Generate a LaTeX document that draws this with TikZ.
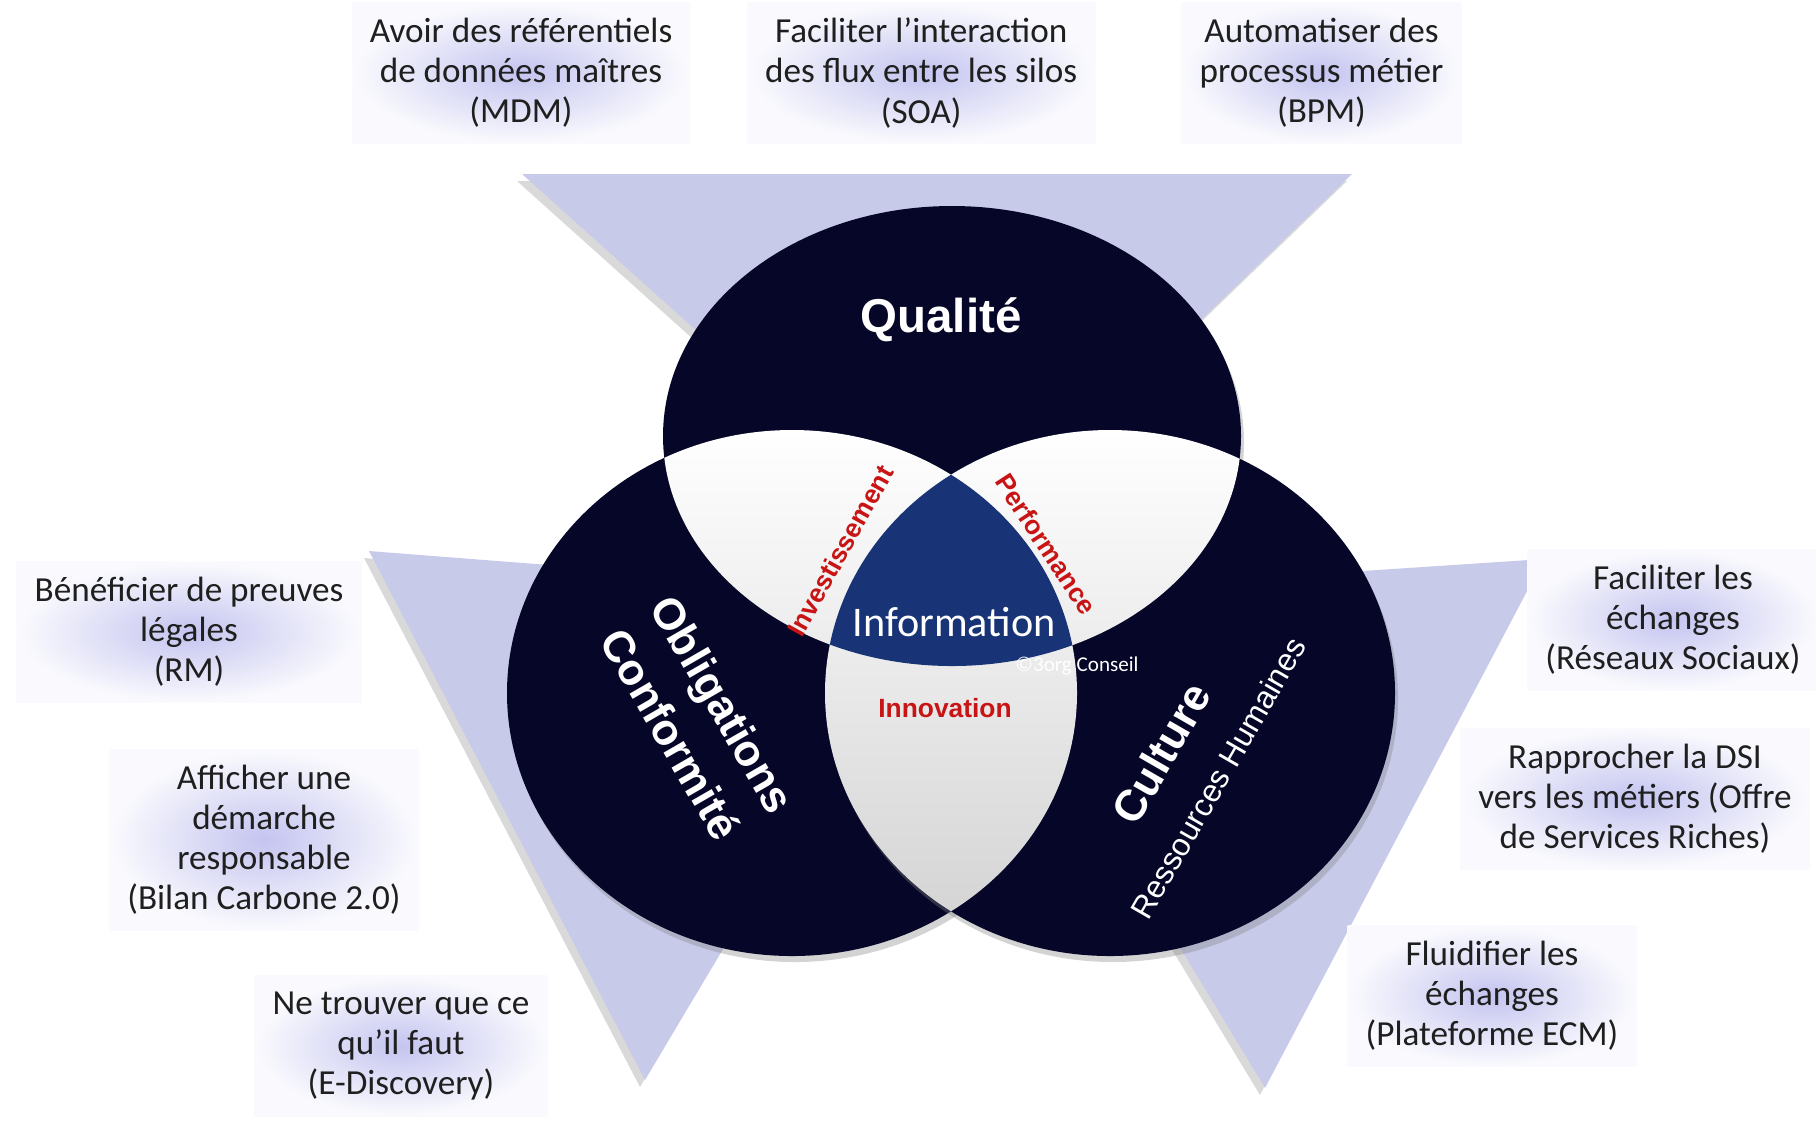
\documentclass[tikz,border=0pt]{standalone}
\usepackage{fontspec}
\setmainfont{Carlito}
\newfontfamily\arialfont{Liberation Sans}
\usetikzlibrary{positioning, shadows}
\definecolor{navy}{RGB}{6,6,40}
\definecolor{infoblue}{RGB}{24,52,118}
\definecolor{lavender}{RGB}{200,202,234}
\definecolor{glow}{RGB}{196,196,240}
\definecolor{redlab}{RGB}{200,20,20}
\newcommand{\topdisc}{(952,436) ellipse [x radius=289, y radius=230]}
\newcommand{\leftdisc}{(792,693) ellipse [x radius=285, y radius=263]}
\newcommand{\rightdisc}{(1110,693) ellipse [x radius=285, y radius=263]}
\tikzstyle{goal} = [inner color=glow, outer color=glow!8!white, align=center, text=black!88, font=\fontsize{10}{11.4}\selectfont, inner xsep=0.18cm, inner ysep=0.16cm]
\tikzstyle{pillar} = [text=white, align=center, font=\arialfont\bfseries\fontsize{12.5}{17}\selectfont]
\tikzstyle{link} = [text=redlab, font=\arialfont\bfseries\fontsize{7.5}{9}\selectfont]
\tikzstyle{wedge} = [fill=lavender, drop shadow={shadow xshift=-0.05cm, shadow yshift=-0.07cm, opacity=0.3}]
\tikzstyle{disc} = [fill=navy, drop shadow={shadow xshift=0.03cm, shadow yshift=-0.06cm, opacity=0.35}]
\tikzstyle{lens} = [top color=white, middle color=white!97!black, bottom color=black!18]

\begin{document}
\begin{tikzpicture}[x=0.01cm, y=-0.01cm, node distance=4cm]
    \useasboundingbox (0,0) rectangle (1816,1120);
    \fill[wedge] (522,174) -- (1352,174) -- (952,560) -- cycle;
    \fill[wedge] (369,551) -- (934,595) -- (645,1080) -- cycle;
    \fill[wedge] (1544,559) -- (968,597) -- (1265,1088) -- cycle;
    \fill[disc] \topdisc;
    \fill[disc] \leftdisc;
    \fill[disc] \rightdisc;
    \begin{scope}
        \clip \topdisc;
        \shade[lens] \leftdisc;
        \shade[lens] \rightdisc;
    \end{scope}
    \begin{scope}
        \clip \leftdisc;
        \shade[lens] \rightdisc;
    \end{scope}
    \begin{scope}
        \clip \topdisc;
        \clip \leftdisc;
        \fill[infoblue] \rightdisc;
    \end{scope}

    \node (quality) [pillar, font=\arialfont\bfseries\fontsize{13.5}{17}\selectfont] at (941,320) {Qualité};
    \node (compliance) [pillar, rotate=-60] at (697,719) {Obligations\\Conformité};
    \node (culture) [pillar, rotate=60] at (1161,753) {Culture};
    \node (hr) [rotate=60, text=white, font=\arialfont\fontsize{9}{11}\selectfont] at (1218,778) {Ressources Humaines};
    \node (invest) [link, rotate=61] at (840,551) {Investissement};
    \node (perf) [link, rotate=-57] at (1046,544) {Performance};
    \node (innov) [link] at (945,708) {Innovation};
    \node (info) [text=white, font=\fontsize{12}{14}\selectfont] at (954,622) {Information};
    \node (copy) [text=white, font=\fontsize{6}{7}\selectfont] at (1077,666) {©3org Conseil};

    \node (mdm) [goal] at (521,73) {Avoir des référentiels\\de données maîtres\\(MDM)};
    \node (soa) [goal, right of=mdm] {Faciliter l’interaction\\des flux entre les silos\\(SOA)};
    \node (bpm) [goal, right of=soa] {Automatiser des\\processus métier\\(BPM)};
    \node (rm) [goal] at (189,632) {Bénéficier de preuves\\légales\\(RM)};
    \node (carbon) [goal] at (264,840) {Afficher une\\démarche\\responsable\\(Bilan Carbone 2.0)};
    \node (discovery) [goal] at (401,1046) {Ne trouver que ce\\qu’il faut\\(E-Discovery)};
    \node (social) [goal] at (1673,620) {Faciliter les\\échanges\\(Réseaux Sociaux)};
    \node (services) [goal] at (1635,799) {Rapprocher la DSI\\vers les métiers (Offre\\de Services Riches)};
    \node (ecm) [goal] at (1492,996) {Fluidifier les\\échanges\\(Plateforme ECM)};
\end{tikzpicture}
\end{document}
